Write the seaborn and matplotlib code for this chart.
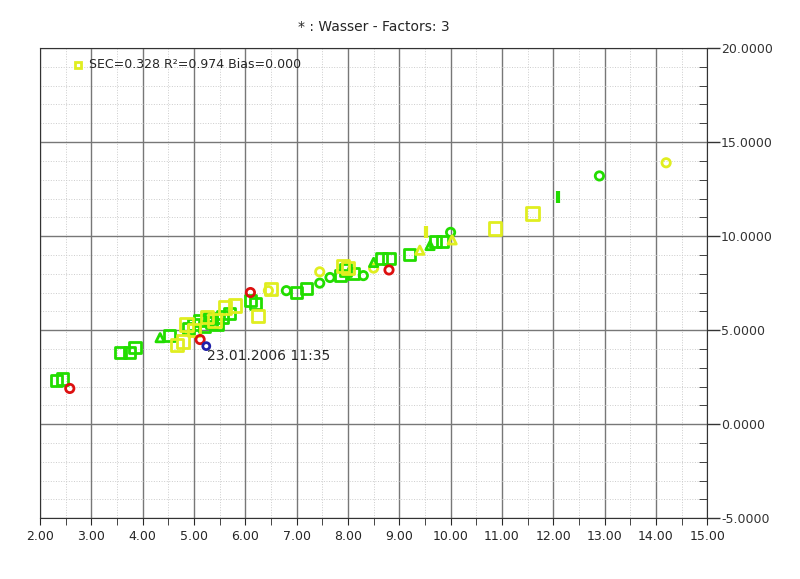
import numpy as np
import pandas as pd
import matplotlib
matplotlib.use('Agg')
import matplotlib.pyplot as plt
import seaborn as sns
from matplotlib.ticker import MultipleLocator

# ── Data ─────────────────────────────────────────────────────────────────────
green_sq_x = [2.33, 2.43, 3.56, 3.75, 3.85, 4.53, 4.9, 5.0, 5.1, 5.2, 5.3, 5.35, 5.45, 5.55, 5.7,
              6.1, 6.2, 7.0, 7.2, 7.85, 7.95, 8.1, 8.65, 8.8, 9.2, 9.7, 9.85]
green_sq_y = [2.3, 2.4, 3.8, 3.8, 4.1, 4.7, 5.1, 5.3, 5.5, 5.2, 5.6, 5.4, 5.3, 5.7, 5.9,
              6.6, 6.4, 7.0, 7.2, 7.9, 8.2, 8.0, 8.8, 8.8, 9.0, 9.7, 9.7]
yellow_sq_x = [4.67, 4.79, 4.85, 5.0, 5.25, 5.4, 5.6, 5.8, 6.25, 6.5, 7.9, 8.0, 10.87, 11.6]
yellow_sq_y = [4.2, 4.4, 5.3, 5.0, 5.7, 5.5, 6.2, 6.3, 5.75, 7.2, 8.4, 8.3, 10.4, 11.2]
green_ci_x = [6.8, 7.45, 7.65, 8.3, 10.0, 12.9]
green_ci_y = [7.1, 7.5, 7.8, 7.9, 10.2, 13.2]
yellow_ci_x = [6.45, 7.45, 8.5, 14.2]
yellow_ci_y = [7.1, 8.1, 8.3, 13.9]
red_ci_x = [2.58, 5.12, 6.1, 8.8]
red_ci_y = [1.9, 4.5, 7.0, 8.2]
blue_ci_x = [5.24]
blue_ci_y = [4.15]
green_tr_x = [4.34, 8.5, 9.6]
green_tr_y = [4.6, 8.6, 9.5]
yellow_tr_x = [9.4, 10.03]
yellow_tr_y = [9.25, 9.8]
green_bar_x = [12.1]
green_bar_y = [12.1]
yellow_bar_x = [9.52]
yellow_bar_y = [10.2]

title = '* : Wasser - Factors: 3'
legend_text = 'SEC=0.328 R\u00b2=0.974 Bias=0.000'
note_text = '23.01.2006 11:35'

GREEN = '#22dd00'
YELLOW = '#e0ee20'

groups = [
    (green_sq_x, green_sq_y, 's', GREEN, 8),
    (yellow_sq_x, yellow_sq_y, 's', YELLOW, 9),
    (green_ci_x, green_ci_y, 'o', GREEN, 6),
    (yellow_ci_x, yellow_ci_y, 'o', YELLOW, 6),
    (red_ci_x, red_ci_y, 'o', '#dd1010', 6),
    (blue_ci_x, blue_ci_y, 'o', '#2020aa', 5),
    (green_tr_x, green_tr_y, '^', GREEN, 6),
    (yellow_tr_x, yellow_tr_y, '^', YELLOW, 6),
    (green_bar_x, green_bar_y, '|', GREEN, 8),
    (yellow_bar_x, yellow_bar_y, '|', YELLOW, 8),
]

# ── Plot ─────────────────────────────────────────────────────────────────────
sns.set_style('white')
fig = plt.figure(figsize=(8, 5.79), dpi=100)
ax = fig.add_axes([0.05, 0.105, 0.834, 0.812])

for xs, ys, m, c, s in groups:
    df = pd.DataFrame({'x': xs, 'y': ys})
    if m == '|':
        sns.scatterplot(data=df, x='x', y='y', marker='|', color=c, s=s ** 2,
                        linewidth=3, ax=ax, zorder=3)
    else:
        sns.scatterplot(data=df, x='x', y='y', marker=m, s=s ** 2,
                        facecolor='none', edgecolor=c, linewidth=2, ax=ax, zorder=3)

ax.set_xlim(2, 15)
ax.set_ylim(-5, 20)
ax.xaxis.set_major_locator(MultipleLocator(1))
ax.xaxis.set_minor_locator(MultipleLocator(0.5))
ax.yaxis.set_major_locator(MultipleLocator(5))
ax.yaxis.set_minor_locator(MultipleLocator(1))
ax.set_xticklabels([f'{v:.2f}' for v in ax.get_xticks()])
ax.yaxis.tick_right()
ax.set_yticklabels([f'{v:.4f}' for v in ax.get_yticks()])
ax.tick_params(axis='y', which='major', direction='out', length=9, pad=1,
               labelsize=9, colors='#333333', width=1)
ax.tick_params(axis='y', which='minor', direction='in', length=6, right=True)
ax.tick_params(axis='x', which='both', direction='out', length=5, labelsize=9, bottom=True)

ax.grid(True, which='major', color='#777777', linewidth=1)
ax.grid(True, which='minor', color='#cccccc', linestyle=':', linewidth=0.7)
ax.set_xlabel('')
ax.set_ylabel('')
for sp in ax.spines.values():
    sp.set_color('#333333')

ax.set_title(title, fontsize=10, pad=12)
ax.plot([2.75], [19.1], 's', mfc='none', mec=YELLOW, mew=2, ms=5)
ax.text(2.95, 19.1, legend_text, fontsize=9, va='center')
ax.text(5.25, 3.6, note_text, fontsize=10, va='center')

fig.savefig('out.png', dpi=100)
